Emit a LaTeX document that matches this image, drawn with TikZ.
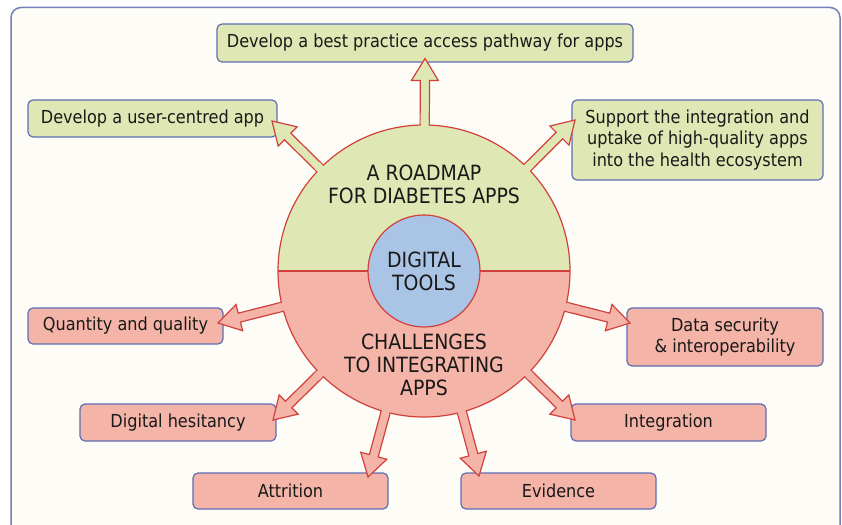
\documentclass[tikz,border=0pt]{standalone}
\usepackage{fontspec}
\setmainfont{DejaVu Sans Condensed}
\usetikzlibrary{calc}
\definecolor{gr}{HTML}{DFE8B4}
\definecolor{sal}{HTML}{F4B4A8}
\definecolor{blu}{HTML}{A9C4E5}
\definecolor{rd}{HTML}{D2403C}
\definecolor{bx}{HTML}{5E6EB4}
\definecolor{bgc}{HTML}{FDFCF7}
\definecolor{fr}{HTML}{7480B8}
\newcommand\blockarrow[2]{%
  \coordinate (s) at ($(C)!120pt!(#1)$);
  \coordinate (b) at ($(#1)!22pt!(C)$);
  \filldraw[fill=#2, draw=rd, line width=1.2pt, line join=miter]
    ($(s)!4.6pt!90:(#1)$) -- ($(b)!4.6pt!90:(#1)$) -- ($(b)!13.5pt!90:(#1)$) -- (#1)
    -- ($(b)!13.5pt!-90:(#1)$) -- ($(b)!4.6pt!-90:(#1)$) -- ($(s)!4.6pt!-90:(#1)$) -- cycle;
}
\newcommand\arrowpatch[2]{%
  \coordinate (s) at ($(C)!120pt!(#1)$);
  \coordinate (e) at ($(C)!151pt!(#1)$);
  \fill[#2] ($(s)!3.9pt!90:(#1)$) -- ($(e)!3.9pt!90:(#1)$) -- ($(e)!3.9pt!-90:(#1)$) -- ($(s)!3.9pt!-90:(#1)$) -- cycle;
}
\tikzset{
  box/.style={draw=bx, line width=1.2pt, rounded corners=5pt, align=center,
    font=\fontsize{17.9}{21.8}\selectfont, inner sep=0pt, text=black!90},
  gbox/.style={box, fill=gr},
  sbox/.style={box, fill=sal},
  big/.style={align=center, font=\fontsize{21}{23}\selectfont, text=black!90}
}
\begin{document}
\begin{tikzpicture}[x=1pt,y=-1pt]
\useasboundingbox (0,0) rectangle (842,524);
\fill[white] (0,0) rectangle (842,524);
\filldraw[fill=bgc, draw=fr, line width=1.5pt, rounded corners=10pt] (11,7.5) rectangle (840,560);

% boxes
\node[gbox, minimum width=416pt, minimum height=38pt] (top) at (425,43) {Develop a best practice access pathway for apps};
\node[gbox, minimum width=249pt, minimum height=37pt] (user) at (152.5,118.5) {Develop a user-centred app};
\node[gbox, minimum width=251pt, minimum height=80pt] (supp) at (697.5,140) {Support the integration and\\uptake of high-quality apps\\into the health ecosystem};
\node[sbox, minimum width=195pt, minimum height=36pt] (qual) at (125.5,326) {Quantity and quality};
\node[sbox, minimum width=196pt, minimum height=37pt] (hes) at (178,422.5) {Digital hesitancy};
\node[sbox, minimum width=195pt, minimum height=36pt] (attr) at (290.5,491) {Attrition};
\node[sbox, minimum width=195pt, minimum height=36pt] (evid) at (558.5,491) {Evidence};
\node[sbox, minimum width=195pt, minimum height=37pt] (integ) at (668.5,422.5) {Integration};
\node[sbox, minimum width=196pt, minimum height=58pt] (data) at (725,337) {Data security\\\& interoperability};

% centre and arrow tips
\coordinate (C) at (424,271);
\coordinate (tA) at (425,58.5);
\coordinate (tB) at (272,121);
\coordinate (tC) at (575,120);
\coordinate (tD) at (218,323);
\coordinate (tE) at (273,420);
\coordinate (tF) at (368,477);
\coordinate (tG) at (479,476);
\coordinate (tH) at (575,420);
\coordinate (tI) at (630,323);

\blockarrow{tA}{gr}
\blockarrow{tB}{gr}
\blockarrow{tC}{gr}
\blockarrow{tD}{sal}
\blockarrow{tE}{sal}
\blockarrow{tF}{sal}
\blockarrow{tG}{sal}
\blockarrow{tH}{sal}
\blockarrow{tI}{sal}

% main circle
\begin{scope}
\clip (C) circle[radius=146pt];
\fill[gr] (200,100) rectangle (650,271);
\fill[sal] (200,271) rectangle (650,440);
\end{scope}
\draw[rd, line width=1.2pt] (C) circle[radius=146pt];
\draw[rd, line width=1.2pt] (278,271) -- (570,271);

\arrowpatch{tA}{gr}
\arrowpatch{tB}{gr}
\arrowpatch{tC}{gr}
\arrowpatch{tD}{sal}
\arrowpatch{tE}{sal}
\arrowpatch{tF}{sal}
\arrowpatch{tG}{sal}
\arrowpatch{tH}{sal}
\arrowpatch{tI}{sal}

\node[circle, fill=blu, draw=rd, line width=1.2pt, minimum size=112pt, inner sep=0pt, big] (dig) at (C) {DIGITAL\\TOOLS};
\node[big] (road) at (424,184.5) {A ROADMAP\\FOR DIABETES APPS};
\node[big] (chal) at (424,365) {CHALLENGES\\TO INTEGRATING\\APPS};
\end{tikzpicture}
\end{document}
